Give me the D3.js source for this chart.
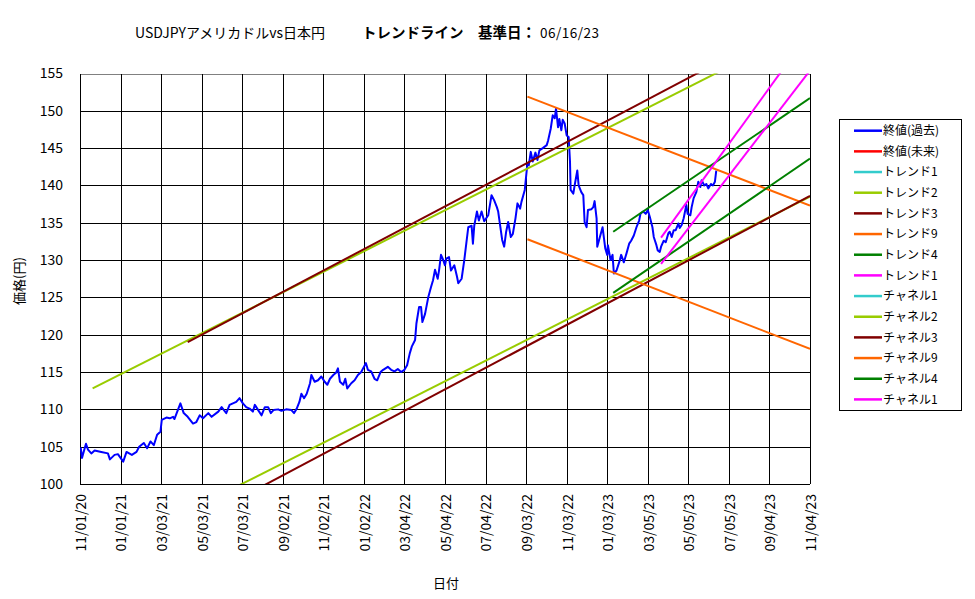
<!DOCTYPE html>
<html>
<head>
<meta charset="utf-8">
<script src="https://cdn.jsdelivr.net/npm/d3@7"></script>
<style>
body { margin: 0; background: #fff; }
text { font-family: "Noto Sans CJK JP", "Noto Sans", sans-serif; fill: #000; }
</style>
</head>
<body>
<div id="main"></div>
<script>
// x axis tick labels (61 day steps) and y ticks
const tickLabels = ["11/01/20","01/01/21","03/03/21","05/03/21","07/03/21","09/02/21","11/02/21",
    "01/02/22","03/04/22","05/04/22","07/04/22","09/03/22","11/03/22","01/03/23","03/05/23",
    "05/05/23","07/05/23","09/04/23","11/04/23"];
const yTicks = [100,105,110,115,120,125,130,135,140,145,150,155];

// 終値(過去)
const closePast = [
["11/02/20",104.9],["11/04/20",103.5],["11/10/20",105.4],["11/13/20",104.6],["11/18/20",104.1],
["11/23/20",104.5],["12/03/20",104.3],["12/13/20",104.1],["12/16/20",103.3],["12/23/20",103.9],
["12/28/20",104.0],["01/05/21",103.0],["01/10/21",104.3],["01/18/21",103.9],["01/25/21",104.3],
["01/29/21",105.0],["02/05/21",105.5],["02/10/21",104.8],["02/15/21",105.7],["02/20/21",105.2],
["02/25/21",106.6],["03/02/21",107.0],["03/04/21",108.6],["03/11/21",108.9],["03/16/21",108.8],
["03/21/21",109.0],["03/23/21",108.7],["03/26/21",109.4],["04/01/21",110.8],["04/06/21",109.5],
["04/12/21",109.0],["04/20/21",108.1],["04/25/21",108.3],["04/30/21",109.2],["05/05/21",108.8],
["05/13/21",109.5],["05/18/21",109.0],["05/28/21",109.7],["06/02/21",110.3],["06/09/21",109.5],
["06/14/21",110.6],["06/24/21",111.0],["06/29/21",111.5],["07/04/21",110.8],["07/09/21",110.3],
["07/14/21",110.1],["07/19/21",109.7],["07/22/21",110.6],["07/27/21",109.9],["08/01/21",109.2],
["08/06/21",110.3],["08/11/21",110.3],["08/15/21",109.5],["08/19/21",109.9],["08/26/21",110.0],
["08/31/21",109.8],["09/07/21",110.0],["09/15/21",109.9],["09/19/21",109.5],["09/23/21",110.1],
["09/27/21",111.0],["09/30/21",112.1],["10/04/21",111.5],["10/08/21",112.1],["10/13/21",113.5],
["10/15/21",114.6],["10/20/21",113.7],["10/25/21",113.9],["10/30/21",114.4],["11/04/21",113.7],
["11/08/21",113.3],["11/12/21",114.1],["11/17/21",114.6],["11/21/21",114.9],["11/24/21",115.5],
["11/27/21",113.7],["12/02/21",113.3],["12/05/21",114.1],["12/08/21",112.8],["12/14/21",113.5],
["12/19/21",113.9],["12/24/21",114.6],["12/29/21",115.0],["01/05/22",116.2],["01/08/22",115.3],
["01/13/22",115.1],["01/18/22",114.1],["01/22/22",113.9],["01/27/22",115.0],["01/31/22",115.3],
["02/07/22",115.7],["02/12/22",115.3],["02/17/22",115.1],["02/22/22",115.4],["02/27/22",115.0],
["03/04/22",115.3],["03/08/22",115.9],["03/12/22",117.5],["03/15/22",118.4],["03/20/22",119.3],
["03/22/22",121.5],["03/26/22",123.7],["03/29/22",123.7],["03/31/22",121.7],["04/04/22",122.8],
["04/09/22",125.1],["04/13/22",126.4],["04/16/22",127.3],["04/19/22",128.7],["04/23/22",127.5],
["04/25/22",128.6],["04/28/22",130.7],["05/01/22",130.1],["05/04/22",129.3],["05/06/22",130.2],
["05/10/22",130.4],["05/13/22",128.6],["05/18/22",129.3],["05/22/22",127.8],["05/24/22",126.9],
["05/29/22",127.5],["06/02/22",130.0],["06/05/22",132.2],["06/08/22",134.4],["06/13/22",134.6],
["06/15/22",132.2],["06/17/22",134.6],["06/21/22",136.5],["06/24/22",135.3],["06/28/22",136.5],
["07/02/22",135.2],["07/08/22",136.0],["07/13/22",138.7],["07/17/22",138.0],["07/21/22",137.1],
["07/23/22",136.5],["07/29/22",132.7],["08/01/22",131.8],["08/04/22",133.8],["08/07/22",135.1],
["08/11/22",133.1],["08/14/22",133.5],["08/18/22",135.6],["08/21/22",137.6],["08/25/22",136.9],
["08/27/22",137.8],["09/01/22",139.4],["09/05/22",143.0],["09/07/22",142.7],["09/10/22",144.5],
["09/13/22",143.2],["09/17/22",144.4],["09/20/22",143.4],["09/23/22",144.7],["09/28/22",145.0],
["10/04/22",145.4],["10/06/22",146.0],["10/10/22",147.6],["10/13/22",149.4],["10/16/22",149.0],
["10/18/22",150.3],["10/21/22",147.8],["10/23/22",148.9],["10/26/22",147.4],["10/28/22",148.8],
["10/31/22",148.3],["11/03/22",146.7],["11/06/22",146.5],["11/08/22",143.2],["11/09/22",139.4],
["11/13/22",138.9],["11/15/22",140.0],["11/19/22",142.0],["11/21/22",140.0],["11/25/22",139.1],
["11/28/22",138.7],["11/30/22",135.1],["12/03/22",134.4],["12/05/22",136.7],["12/10/22",136.8],
["12/13/22",137.1],["12/15/22",137.9],["12/18/22",135.6],["12/19/22",131.8],["12/23/22",133.1],
["12/27/22",134.4],["12/31/22",131.6],["01/03/23",130.7],["01/04/23",132.0],["01/08/23",130.0],
["01/11/23",130.7],["01/13/23",128.2],["01/17/23",128.6],["01/22/23",130.0],["01/24/23",130.7],
["01/28/23",129.7],["02/01/23",130.9],["02/05/23",132.2],["02/08/23",132.6],["02/12/23",133.3],
["02/16/23",134.4],["02/20/23",135.3],["02/22/23",136.2],["02/26/23",136.5],["03/02/23",136.2],
["03/05/23",136.7],["03/08/23",135.8],["03/12/23",134.4],["03/14/23",133.1],["03/18/23",132.0],
["03/20/23",131.3],["03/23/23",131.1],["03/25/23",131.8],["03/29/23",132.6],["04/01/23",132.4],
["04/05/23",133.6],["04/07/23",133.8],["04/10/23",133.1],["04/13/23",134.0],["04/16/23",134.0],
["04/20/23",134.9],["04/22/23",134.3],["04/25/23",134.7],["04/28/23",135.6],["05/02/23",137.4],
["05/04/23",136.2],["05/08/23",136.0],["05/10/23",137.1],["05/13/23",138.3],["05/17/23",139.1],
["05/20/23",140.5],["05/23/23",139.8],["05/25/23",140.7],["05/29/23",140.0],["06/01/23",140.2],
["06/04/23",139.6],["06/08/23",140.2],["06/11/23",140.0],["06/14/23",140.5],["06/16/23",142.0]
];
const closeFuture = [];

// trend / channel lines (start, end)
const trend1 = [];
const trend2 = [["11/20/20",112.8],["11/04/23",161.4]];
const trend3 = [["04/12/21",119.0],["11/04/23",163.0]];
const trend9 = [["09/05/22",151.9],["11/04/23",137.3]];
const trend4 = [["01/12/23",133.8],["11/04/23",151.7]];
const trend1b = [["03/25/23",133.0],["11/04/23",160.6]];
const channel1 = [];
const channel2 = [["11/20/20",89.9],["11/04/23",138.5]];
const channel3 = [["04/12/21",94.4],["11/04/23",138.6]];
const channel9 = [["09/05/22",132.8],["11/04/23",118.1]];
const channel4 = [["01/12/23",125.6],["11/04/23",143.6]];
const channel1b = [["03/25/23",129.5],["11/04/23",155.4]];

const seriesNames = ["終値(過去)","終値(未来)","トレンド1","トレンド2","トレンド3","トレンド9","トレンド4","トレンド1",
    "チャネル1","チャネル2","チャネル3","チャネル9","チャネル4","チャネル1"];
const seriesData = [closePast, closeFuture, trend1, trend2, trend3, trend9, trend4, trend1b,
    channel1, channel2, channel3, channel9, channel4, channel1b];
const seriesColors = ["#0000FF","#FF0000","#33CCCC","#99CC00","#800000","#FF6600","#008000","#FF00FF",
    "#33CCCC","#99CC00","#800000","#FF6600","#008000","#FF00FF"];

const W = 975, H = 599;
const plotL = 80, plotR = 810, plotT = 73.5, plotB = 484;
const parse = d3.timeParse("%m/%d/%y");

const svg = d3.select("#main").append("svg")
    .attr("width", W).attr("height", H)
    .style("display", "block");
svg.append("rect").attr("width", W).attr("height", H).attr("fill", "#fff");

const x = d3.scaleTime()
    .domain([parse(tickLabels[0]), parse(tickLabels[tickLabels.length - 1])])
    .range([plotL, plotR]);
const y = d3.scaleLinear().domain([100, 155]).range([plotB, plotT]);

// title
const title = svg.append("text").attr("x", 135).attr("y", 38);
title.append("tspan").attr("font-size", 14).text("USDJPYアメリカドルvs日本円");
title.append("tspan").attr("x", 362).attr("font-size", 14.5).attr("font-weight", "bold").text("トレンドライン　基準日：");
title.append("tspan").attr("x", 540).attr("font-size", 13.5).attr("letter-spacing", 0.5).text("06/16/23");

// grid
const grid = svg.append("g").attr("shape-rendering", "crispEdges");
grid.selectAll("line.h").data(yTicks).enter().append("line")
    .attr("x1", plotL).attr("x2", plotR)
    .attr("y1", d => Math.round(y(d)) + 0.5).attr("y2", d => Math.round(y(d)) + 0.5)
    .attr("stroke", d => d === 155 ? "#808080" : "#000");
grid.selectAll("line.v").data(tickLabels).enter().append("line")
    .attr("y1", plotT).attr("y2", plotB)
    .attr("x1", d => Math.round(x(parse(d))) + 0.5).attr("x2", d => Math.round(x(parse(d))) + 0.5)
    .attr("stroke", "#000");

// lines
svg.append("clipPath").attr("id", "plotClip").append("rect")
    .attr("x", plotL).attr("y", plotT).attr("width", plotR - plotL).attr("height", plotB - plotT);
const line = d3.line().x(d => x(parse(d[0]))).y(d => y(d[1]));
svg.append("g").attr("clip-path", "url(#plotClip)")
    .selectAll("path").data(seriesData.map((d, i) => ({ d, i })).filter(s => s.d.length > 1))
    .enter().append("path")
    .attr("d", s => line(s.d))
    .attr("fill", "none")
    .attr("stroke", s => seriesColors[s.i])
    .attr("stroke-width", 2)
    .attr("stroke-linejoin", "round");

// y tick labels
svg.append("g").selectAll("text").data(yTicks).enter().append("text")
    .attr("x", 63).attr("y", d => y(d)).attr("dy", "0.35em")
    .attr("text-anchor", "end").attr("font-size", 14)
    .text(d => d);

// x tick labels (rotated)
svg.append("g").selectAll("text").data(tickLabels).enter().append("text")
    .attr("transform", d => `translate(${x(parse(d)) + 1},494) rotate(-90)`)
    .attr("dy", "0.35em").attr("text-anchor", "end").attr("font-size", 14)
    .text(d => d);

// axis titles
svg.append("text").attr("transform", "translate(19,281) rotate(-90)")
    .attr("text-anchor", "middle").attr("dy", "0.35em").attr("font-size", 13).text("価格(円)");
svg.append("text").attr("x", 446).attr("y", 588).attr("text-anchor", "middle")
    .attr("font-size", 13).text("日付");

// legend
const lg = svg.append("g");
lg.append("rect").attr("x", 839.5).attr("y", 119.5).attr("width", 122).attr("height", 291)
    .attr("fill", "#fff").attr("stroke", "#000");
const rows = lg.selectAll("g.row").data(seriesNames).enter().append("g")
    .attr("transform", (d, i) => `translate(0,${130.7 + i * 20.67})`);
rows.append("line").attr("x1", 854).attr("x2", 882)
    .attr("stroke", (d, i) => seriesColors[i]).attr("stroke-width", 2.5);
rows.append("text").attr("x", 883).attr("dy", "0.36em").attr("font-size", 12).text(d => d);
</script>
</body>
</html>
